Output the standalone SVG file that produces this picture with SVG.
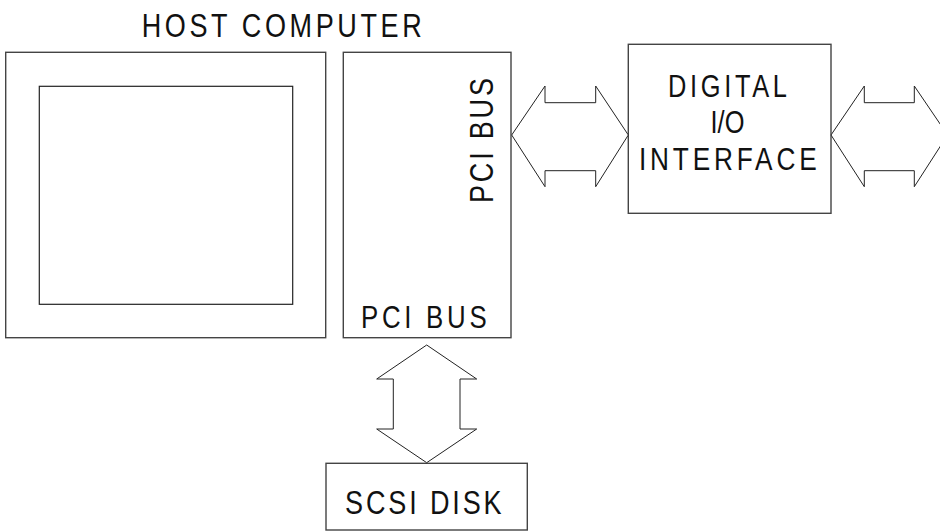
<svg xmlns="http://www.w3.org/2000/svg" width="940" height="531" viewBox="0 0 940 531">
<style>
.box{fill:#fff;stroke:#444;stroke-width:1.4}
.inner{fill:none;stroke:#222;stroke-width:1.2}
.arr{fill:#fff;stroke:#222;stroke-width:1}
.t{font-family:"Liberation Sans",Arial,sans-serif;fill:#111;text-anchor:middle}
</style>
<rect x="0" y="0" width="940" height="531" fill="#fff"/>
<g id="host">
<text class="t" x="0" y="0" font-size="33" textLength="341.5" lengthAdjust="spacing" transform="translate(281.7 37.3) scale(0.82 1)">HOST COMPUTER</text>
<rect class="box" x="5.7" y="52.3" width="320" height="285.4"/>
<rect class="inner" x="39.3" y="86.3" width="253.4" height="218"/>
</g>
<g id="pci">
<rect class="box" x="343.3" y="52.3" width="167.7" height="285.4"/>
<text class="t" x="0" y="0" font-size="33" textLength="152.4" lengthAdjust="spacing" transform="translate(493 140.5) rotate(-90) scale(0.82 1)">PCI BUS</text>
<text class="t" x="0" y="0" font-size="31.5" textLength="153.3" lengthAdjust="spacing" transform="translate(423.8 328.3) scale(0.82 1)">PCI BUS</text>
</g>
<g id="dio">
<rect class="box" x="628.3" y="44.3" width="202.7" height="169"/>
<text class="t" x="0" y="0" font-size="31" textLength="145" lengthAdjust="spacing" transform="translate(727.5 96.7) scale(0.82 1)">DIGITAL</text>
<text class="t" x="0" y="0" font-size="31" transform="translate(727.5 133) scale(0.82 1)">I/O</text>
<text class="t" x="0" y="0" font-size="32" textLength="216.7" lengthAdjust="spacing" transform="translate(727.8 170) scale(0.82 1)">INTERFACE</text>
</g>
<g id="scsi">
<rect class="box" x="326" y="463.3" width="201.3" height="66.7"/>
<text class="t" x="0" y="0" font-size="33" textLength="191" lengthAdjust="spacing" transform="translate(423.3 514) scale(0.82 1)">SCSI DISK</text>
</g>
<g id="connectors">
<polygon class="arr" points="511.7,135 545,86 545,102.7 595.7,102.7 595.7,86 628.3,135 595.7,186.7 595.7,170.7 545,170.7 545,186.7"/>
<polygon class="arr" points="831,135 864.3,86 864.3,102.7 914.3,102.7 914.3,86 947.6,135 914.3,186.7 914.3,170.7 864.3,170.7 864.3,186.7"/>
<polygon class="arr" points="426.7,345 476.7,379 460,379 460,429 476.7,429 426.7,462.7 376.7,429 393.3,429 393.3,379 376.7,379"/>
</g>
</svg>
